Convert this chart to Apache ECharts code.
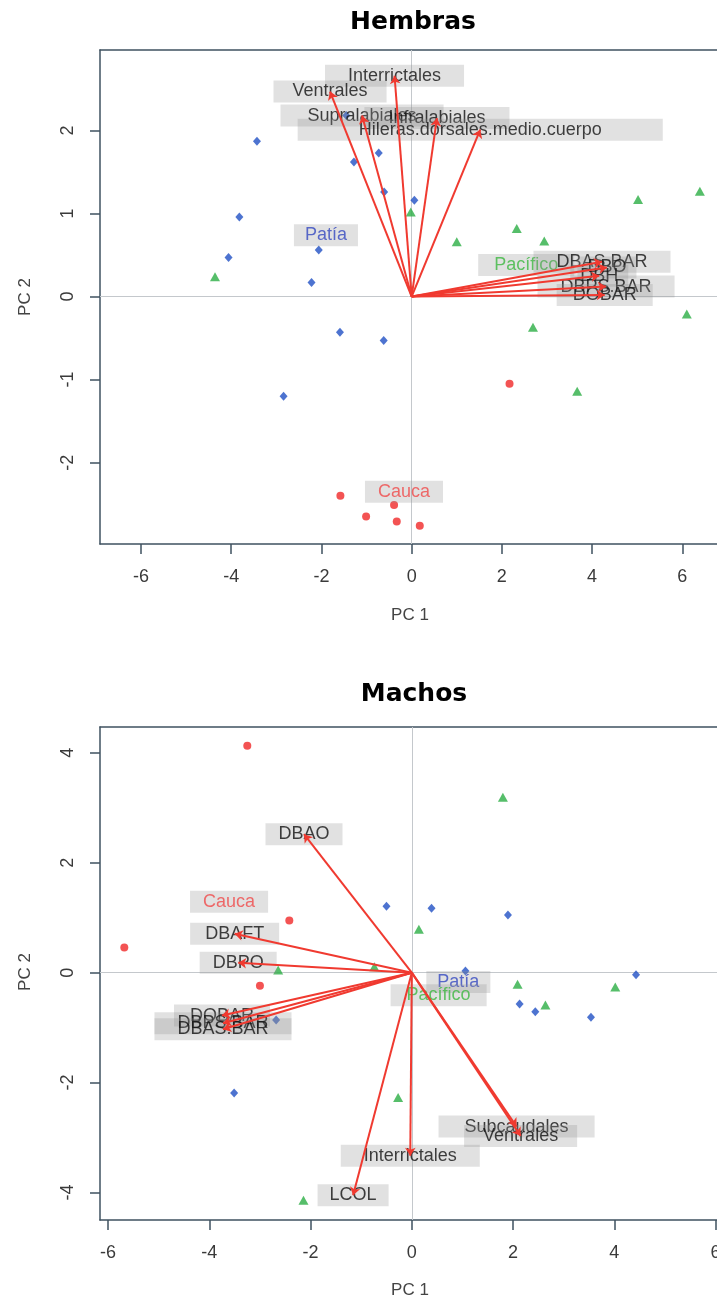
<!DOCTYPE html>
<html><head><meta charset="utf-8">
<script src="https://cdn.jsdelivr.net/npm/echarts@6/dist/echarts.min.js"></script>
<style>html,body{margin:0;padding:0;background:#fff}#c{width:717px;height:1302px}</style>
</head><body><div id="c"></div>
<script>
// ---------- Hembras ----------
const hPatia = [[-3.43,1.87],[-1.45,2.18],[-1.28,1.62],[-0.73,1.73],[-0.61,1.26],[0.06,1.16],[-3.82,0.96],[-4.06,0.47],[-2.06,0.56],[-2.22,0.17],[-1.59,-0.43],[-0.62,-0.53],[-2.84,-1.20]];
const hPacifico = [[-0.02,1.02],[2.33,0.82],[1.00,0.66],[2.94,0.67],[5.02,1.17],[6.39,1.27],[-4.36,0.24],[6.10,-0.21],[2.69,-0.37],[3.67,-1.14]];
const hCauca = [[-1.58,-2.40],[-0.39,-2.51],[-1.01,-2.65],[-0.33,-2.71],[0.18,-2.76],[2.17,-1.05]];
const hVarNames = ['Interrictales','Ventrales','Supralabiales','Infralabiales','Hileras.dorsales.medio.cuerpo','DBAS.BAR','DBO','DBH','DBPS.BAR','DOBAR'];
const hVarPC1 = [-0.38,-1.81,-1.10,0.56,1.52,4.22,4.33,4.16,4.31,4.28];
const hVarPC2 = [2.66,2.47,2.18,2.15,2.01,0.42,0.35,0.25,0.12,0.02];
const hGroupNames = ['Patía','Pacífico','Cauca'];
const hGroupPC1 = [-1.90,2.54,-0.17];
const hGroupPC2 = [0.74,0.38,-2.35];
const hXTicks = [-6,-4,-2,0,2,4,6];
const hYTicks = [-2,-1,0,1,2];

// ---------- Machos ----------
const mPatia = [[-0.50,1.21],[0.39,1.17],[1.90,1.05],[1.06,0.03],[4.43,-0.04],[2.13,-0.57],[2.44,-0.71],[3.54,-0.81],[-2.68,-0.86],[-3.51,-2.19]];
const mPacifico = [[1.80,3.19],[0.14,0.79],[-2.64,0.05],[-0.74,0.11],[2.09,-0.21],[4.02,-0.26],[2.64,-0.59],[-0.27,-2.27],[-2.14,-4.14]];
const mCauca = [[-3.25,4.13],[-2.42,0.95],[-5.68,0.46],[-3.00,-0.24]];
const mVarNames = ['DBAO','DBAFT','DBPO','DOBAR','DBPS.BAR','DBAS.BAR','Subcaudales','Ventrales','Interrictales','LCOL'];
const mVarPC1 = [-2.13,-3.50,-3.43,-3.75,-3.73,-3.73,2.07,2.15,-0.03,-1.16];
const mVarPC2 = [2.52,0.71,0.18,-0.78,-0.92,-1.03,-2.80,-2.97,-3.33,-4.05];
const mGroupNames = ['Patía','Pacífico','Cauca'];
const mGroupPC1 = [0.92,0.53,-3.61];
const mGroupPC2 = [-0.17,-0.41,1.29];
const mXTicks = [-6,-4,-2,0,2,4,6];
const mYTicks = [-4,-2,0,2,4];

const groupColors = ['#3448c0','#3cb840','#f04a4a'];
const FONT = '"Liberation Sans", Arial, sans-serif';
const AXC = '#3f5260';

const ctx = document.createElement('canvas').getContext('2d');
ctx.font = '18px "Liberation Sans"';
function padFor(t){ const w = ctx.measureText(t).width; const p = Math.round(w*0.25); return [4,p,0,p]; }

function labelItems(names, pc1, pc2, colors){
  return names.map((n,i)=>({
    name:n, value:[pc1[i],pc2[i]],
    label:{padding:padFor(n), color: colors ? colors[i] : '#111'}
  }));
}

function biplotSeries(gi, patia, pacifico, cauca, vN, v1, v2, gN, g1, g2){
  const base = {xAxisIndex:gi, yAxisIndex:gi};
  return [
    Object.assign({type:'scatter', name:'Patía', data:patia, symbol:'diamond', symbolSize:[8,9],
      itemStyle:{color:'#2150c4'}, z:2,
      markLine:{silent:true, symbol:'none', label:{show:false},
        lineStyle:{color:'#c4c8cc', width:1, type:'solid'},
        data:[{xAxis:0},{yAxis:0}], z:1}}, base),
    Object.assign({type:'scatter', name:'Pacífico', data:pacifico, symbol:'triangle', symbolSize:[10,9],
      itemStyle:{color:'#2cae45'}, z:2}, base),
    Object.assign({type:'scatter', name:'Cauca', data:cauca, symbol:'circle', symbolSize:8,
      itemStyle:{color:'#f02828'}, z:2}, base),
    Object.assign({type:'scatter', name:'grupos', data:labelItems(gN,g1,g2,groupColors), symbolSize:0, z:3,
      silent:true,
      label:{show:true, position:'inside', formatter:'{b}', fontSize:18, fontFamily:FONT, lineHeight:18,
        backgroundColor:'rgba(144,144,144,0.34)'}}, base),
    Object.assign({type:'scatter', name:'variables', data:labelItems(vN,v1,v2,null), symbolSize:0, z:4,
      silent:true,
      label:{show:true, position:'inside', formatter:'{b}', fontSize:18, fontFamily:FONT, lineHeight:18,
        backgroundColor:'rgba(144,144,144,0.34)'}}, base),
    Object.assign({type:'lines', coordinateSystem:'cartesian2d', name:'cargas', z:5, silent:true,
      symbol:['none','arrow'], symbolSize:8,
      lineStyle:{color:'#f03a30', width:2, opacity:1},
      data: vN.map((n,i)=>({coords:[[0,0],[v1[i],v2[i]]]}))}, base)
  ];
}

function xAxisCfg(gi, min, max, ticks){
  return {gridIndex:gi, type:'value', min:min, max:max, splitNumber:7, position:'bottom',
    axisLine:{show:true, onZero:false, lineStyle:{color:AXC, width:1.5}},
    axisTick:{show:true, customValues:ticks, length:10, lineStyle:{color:AXC, width:1.5}},
    axisLabel:{customValues:ticks, fontSize:18, fontFamily:FONT, color:'#3a3a3a', margin:24},
    splitLine:{show:false}};
}
function topAxisCfg(gi, min, max){
  return {gridIndex:gi, type:'value', min:min, max:max, position:'top',
    axisLine:{show:true, onZero:false, lineStyle:{color:AXC, width:1.5}},
    axisTick:{show:false}, axisLabel:{show:false}, splitLine:{show:false}};
}
function yAxisCfg(gi, min, max, ticks){
  return {gridIndex:gi, type:'value', min:min, max:max,
    axisLine:{show:true, onZero:false, lineStyle:{color:AXC, width:1.5}},
    axisTick:{show:true, customValues:ticks, length:10, lineStyle:{color:AXC, width:1.5}},
    axisLabel:{customValues:ticks, rotate:90, fontSize:18, fontFamily:FONT, color:'#3a3a3a', margin:23},
    splitLine:{show:false}};
}

function txt(t, x, y, font, color, rot){
  return {type:'text', x:x, y:y, rotation:rot||0, silent:true,
    style:{text:t, font:font, fill:color, textAlign:'center', textVerticalAlign:'middle', verticalAlign:'middle'}};
}

const chart = echarts.init(document.getElementById('c'), null, {renderer:'canvas'});
chart.setOption({
  animation:false,
  backgroundColor:'#ffffff',
  grid:[
    {left:100, top:50, width:617, height:494, show:false, containLabel:false, outerBoundsMode:'none'},
    {left:100, top:727, width:617, height:493, show:false, containLabel:false, outerBoundsMode:'none'}
  ],
  xAxis:[xAxisCfg(0,-6.91,6.77,hXTicks), xAxisCfg(1,-6.16,6.03,mXTicks),
         topAxisCfg(0,-6.91,6.77), topAxisCfg(1,-6.16,6.03)],
  yAxis:[yAxisCfg(0,-2.98,2.97,hYTicks), yAxisCfg(1,-4.50,4.47,mYTicks)],
  graphic:[
    txt('Hembras',413,22,'bold 25px "DejaVu Sans"','#000'),
    txt('PC 1',410,615,'17px '+FONT,'#444'),
    txt('PC 2',25,297,'17px '+FONT,'#444',Math.PI/2),
    txt('Machos',414,694,'bold 25px "DejaVu Sans"','#000'),
    txt('PC 1',410,1290,'17px '+FONT,'#444'),
    txt('PC 2',25,972,'17px '+FONT,'#444',Math.PI/2)
  ],
  series:[].concat(
    biplotSeries(0,hPatia,hPacifico,hCauca,hVarNames,hVarPC1,hVarPC2,hGroupNames,hGroupPC1,hGroupPC2),
    biplotSeries(1,mPatia,mPacifico,mCauca,mVarNames,mVarPC1,mVarPC2,mGroupNames,mGroupPC1,mGroupPC2)
  )
});
</script></body></html>
